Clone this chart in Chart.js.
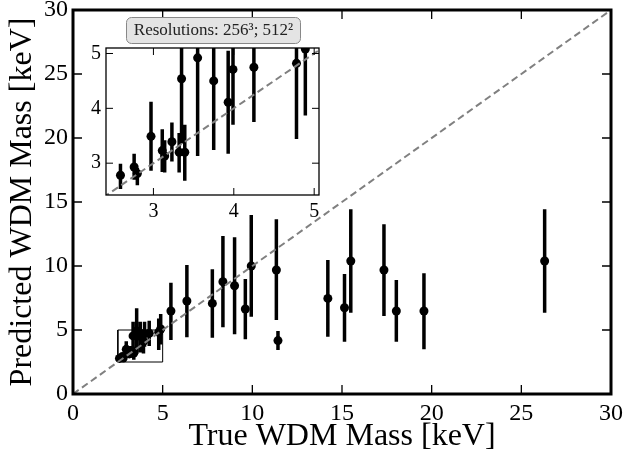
<!DOCTYPE html>
<html lang="en">
<head>
  <meta charset="UTF-8">
  <title>Predicted vs True WDM Mass</title>
  <script src="https://cdn.jsdelivr.net/npm/chart.js"></script>
  <style>
    body { margin: 0; background: #fff; }
    #wrap { position: relative; width: 627px; height: 461px; }
    #mainChart { position: absolute; left: 0; top: 0; }
    #insetChart { position: absolute; left: 62px; top: 12px; }
  </style>
</head>
<body>
  <div id="wrap">
    <canvas id="mainChart" width="627" height="461"></canvas>
    <canvas id="insetChart" width="265" height="218"></canvas>
  </div>

  <script>
    // data (keV)
    const trueMass = [2.59, 2.76, 2.80, 2.97, 3.11, 3.14, 3.23, 3.32, 3.35, 3.39, 3.55, 3.75, 3.93, 3.99, 4.25, 4.78, 4.89,
                      5.46, 6.35, 7.77, 8.36, 9.01, 9.61, 9.94, 11.34, 11.43, 14.21, 15.14, 15.49, 17.34, 18.03, 19.57, 26.30];
    const predMass = [2.78, 2.93, 2.81, 3.49, 3.23, 3.13, 3.39, 3.20, 4.54, 3.20, 4.92, 4.50, 4.11, 4.71, 4.75, 4.82, 5.08,
                      6.48, 7.27, 7.08, 8.77, 8.46, 6.64, 10.00, 9.69, 4.17, 7.47, 6.74, 10.39, 9.69, 6.48, 6.48, 10.39];
    const errLow   = [2.53, 2.70, 2.60, 2.86, 2.84, 2.83, 3.03, 2.83, 3.36, 2.68, 3.13, 3.24, 3.17, 3.70, 3.75, 3.44, 3.87,
                      4.22, 4.43, 4.40, 5.21, 4.66, 4.27, 6.04, 5.78, 3.44, 4.48, 4.09, 6.35, 6.09, 4.09, 3.49, 6.35];
    const errHigh  = [2.99, 3.17, 2.91, 4.12, 3.62, 3.42, 3.74, 3.55, 5.65, 3.70, 6.69, 5.65, 5.05, 5.65, 5.73, 5.90, 6.25,
                      8.70, 10.08, 9.74, 12.34, 12.24, 8.98, 13.98, 13.65, 4.92, 10.47, 9.38, 14.43, 13.26, 8.91, 9.43, 14.43];

    const mainTicks = [0, 5, 10, 15, 20, 25, 30];
    const insetTicks = [3, 4, 5];
    const diagonal = [0, 30];
    const zoomBoxX = [2.5, 5, 5, 2.5, 2.5];
    const zoomBoxY = [2.5, 2.5, 5, 5, 2.5];
    const insetLabel = 'Resolutions: 256³; 512²';

    const serif = "'Liberation Serif', 'DejaVu Serif', serif";

    const points = trueMass.map((x, i) => ({ x: x, y: predMass[i] }));

    // 誤差棒：用座標軸換算像素
    const errorBars = {
      id: 'errorBars',
      beforeDatasetsDraw(chart) {
        const { ctx, chartArea: a, scales: { x, y } } = chart;
        ctx.save();
        ctx.beginPath();
        ctx.rect(a.left, a.top, a.right - a.left, a.bottom - a.top);
        ctx.clip();
        ctx.strokeStyle = '#000';
        ctx.lineWidth = 3.5;
        ctx.beginPath();
        trueMass.forEach((m, i) => {
          const px = x.getPixelForValue(m);
          ctx.moveTo(px, y.getPixelForValue(errLow[i]));
          ctx.lineTo(px, y.getPixelForValue(errHigh[i]));
        });
        ctx.stroke();
        ctx.restore();
      }
    };

    // 外框與向內的刻度
    function makeFrame(lineW, tickLen, tickW) {
      return {
        id: 'frame',
        afterDraw(chart) {
          const { ctx, chartArea: a, scales: { x, y } } = chart;
          ctx.save();
          ctx.strokeStyle = '#000';
          ctx.lineWidth = tickW;
          ctx.beginPath();
          x.ticks.forEach(t => {
            const px = x.getPixelForValue(t.value);
            ctx.moveTo(px, a.bottom); ctx.lineTo(px, a.bottom - tickLen);
            ctx.moveTo(px, a.top); ctx.lineTo(px, a.top + tickLen);
          });
          y.ticks.forEach(t => {
            const py = y.getPixelForValue(t.value);
            ctx.moveTo(a.left, py); ctx.lineTo(a.left + tickLen, py);
            ctx.moveTo(a.right, py); ctx.lineTo(a.right - tickLen, py);
          });
          ctx.stroke();
          ctx.lineWidth = lineW;
          ctx.strokeRect(a.left, a.top, a.right - a.left, a.bottom - a.top);
          ctx.restore();
        }
      };
    }

    // inset 上方的標籤框
    const labelBox = {
      id: 'labelBox',
      afterDraw(chart) {
        const ctx = chart.ctx;
        ctx.save();
        ctx.beginPath();
        ctx.roundRect(64.5, 5.5, 174, 26, 5);
        ctx.fillStyle = '#e4e4e4';
        ctx.fill();
        ctx.strokeStyle = '#888';
        ctx.lineWidth = 1;
        ctx.stroke();
        ctx.fillStyle = '#222';
        ctx.font = '17px ' + serif;
        ctx.textAlign = 'center';
        ctx.textBaseline = 'middle';
        ctx.fillText(insetLabel, 151.5, 19);
        ctx.restore();
      }
    };

    function datasetsFor(withBox) {
      const sets = [
        {
          type: 'line',
          data: diagonal.map(v => ({ x: v, y: v })),
          borderColor: '#808080',
          borderWidth: 2,
          borderDash: [7, 4],
          pointRadius: 0,
          fill: false
        },
        {
          type: 'scatter',
          data: points,
          backgroundColor: '#000',
          borderWidth: 0,
          pointRadius: 4.5
        }
      ];
      if (withBox) {
        sets.push({
          type: 'line',
          data: zoomBoxX.map((x, i) => ({ x: x, y: zoomBoxY[i] })),
          borderColor: '#000',
          borderWidth: 1,
          pointRadius: 0,
          fill: false
        });
      }
      return sets;
    }

    function axis(min, max, tickVals, tickSize, pad, fit) {
      return {
        type: 'linear',
        min: min,
        max: max,
        grid: { display: false, drawTicks: false },
        border: { display: false },
        afterBuildTicks: s => { s.ticks = tickVals.map(v => ({ value: v })); },
        afterFit: fit,
        ticks: { font: { family: serif, size: tickSize }, color: '#000', padding: pad, maxRotation: 0, autoSkip: false }
      };
    }

    // 主圖
    const mainX = axis(0, 30, mainTicks, 24, 5, s => { s.height = 67; s.paddingLeft = 0; s.paddingRight = 0; });
    mainX.title = { display: true, text: 'True WDM Mass [keV]', font: { family: serif, size: 32 }, color: '#000', padding: { bottom: 5 } };
    const mainY = axis(0, 30, mainTicks, 24, 5, s => { s.width = 73; s.paddingTop = 0; s.paddingBottom = 0; });
    mainY.title = { display: true, text: 'Predicted WDM Mass [keV]', font: { family: serif, size: 32 }, color: '#000', padding: { top: 3 } };

    new Chart(document.getElementById('mainChart'), {
      data: { datasets: datasetsFor(true) },
      options: {
        responsive: false,
        animation: false,
        layout: { padding: { top: 10, right: 16, left: 0, bottom: 0 } },
        plugins: { legend: { display: false }, tooltip: { enabled: false } },
        scales: { x: mainX, y: mainY }
      },
      plugins: [errorBars, makeFrame(3, 9, 1.3)]
    });

    // 放大圖
    const insetX = axis(2.41, 5.06, insetTicks, 20, 5, s => { s.height = 35; s.paddingLeft = 0; s.paddingRight = 0; });
    const insetY = axis(2.42, 5.1, insetTicks, 20, 5, s => { s.width = 44; s.paddingTop = 0; s.paddingBottom = 0; });

    new Chart(document.getElementById('insetChart'), {
      data: { datasets: datasetsFor(false) },
      options: {
        responsive: false,
        animation: false,
        layout: { padding: { top: 36, right: 8, left: 0, bottom: 0 } },
        plugins: { legend: { display: false }, tooltip: { enabled: false } },
        scales: { x: insetX, y: insetY }
      },
      plugins: [errorBars, makeFrame(1.3, 7, 1), labelBox]
    });
  </script>
</body>
</html>
